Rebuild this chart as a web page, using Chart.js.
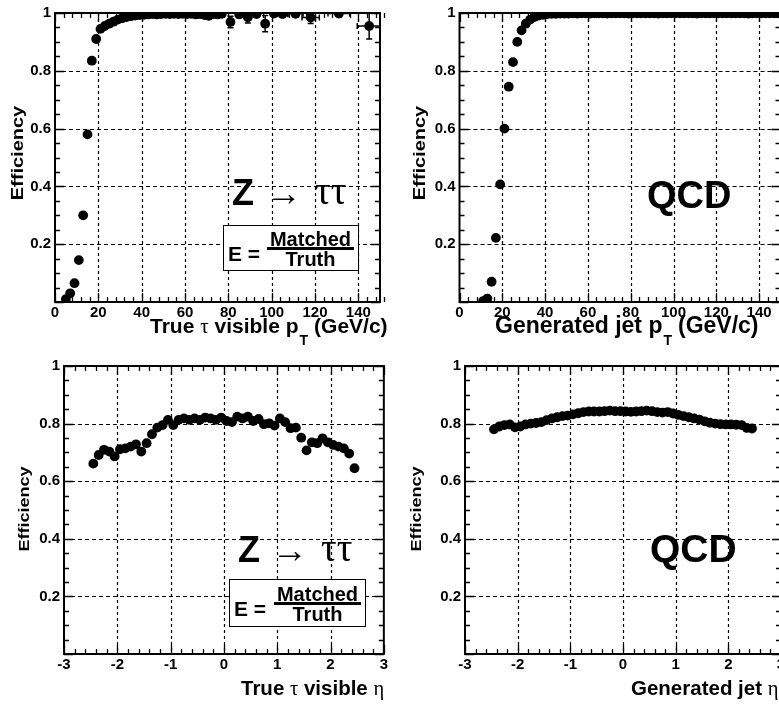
<!DOCTYPE html>
<html>
<head>
<meta charset="utf-8">
<title>Tau matching efficiency</title>
<script src="https://cdn.jsdelivr.net/npm/chart.js@4.4.1/dist/chart.umd.min.js"></script>
<style>
  html, body { margin: 0; padding: 0; background: #fff; }
  body { width: 779px; height: 706px; overflow: hidden; position: relative; font-family: 'Liberation Sans', Arial, sans-serif; }
  canvas { position: absolute; }
  .txt { position: absolute; white-space: nowrap; line-height: 1; font-weight: bold; color: #000; }
  .gk { font-family: 'Liberation Serif', 'DejaVu Serif', serif; font-weight: normal; }
  .sb { font-size: 14px; position: relative; top: 12px; margin-left: 1px; margin-right: 6px; }
  .ytitle { position: absolute; white-space: nowrap; line-height: 1; font-weight: bold; transform: translate(-50%, -50%) rotate(-90deg) scaleY(0.82); }
  .box { position: absolute; border: 1.5px solid #000; background: #fff; }
  .box div { position: absolute; white-space: nowrap; line-height: 1; font-weight: bold; }
  .bar { background: #000; height: 2.5px; }
</style>
</head>
<body>
<canvas id="ptZ" width="390" height="340" style="left:0;top:0"></canvas>
<canvas id="ptQcd" width="400" height="340" style="left:390px;top:0"></canvas>
<canvas id="etaZ" width="390" height="366" style="left:0;top:340px"></canvas>
<canvas id="etaQcd" width="400" height="366" style="left:390px;top:340px"></canvas>

<!-- axis titles -->
<div class="ytitle" style="left:17px;top:153px;font-size:20px">Efficiency</div>
<div class="ytitle" style="left:419px;top:153px;font-size:20px">Efficiency</div>
<div class="ytitle" style="left:24px;top:509px;font-size:18px">Efficiency</div>
<div class="ytitle" style="left:416px;top:509px;font-size:18px">Efficiency</div>

<div class="txt" style="left:150px;top:315px;font-size:21px">True <span class="gk">τ</span> visible p<span class="sb">T</span>(GeV/c)</div>
<div class="txt" style="left:495px;top:314px;font-size:23px">Generated jet p<span class="sb">T</span>(GeV/c)</div>
<div class="txt" style="left:241px;top:678px;font-size:20.5px">True <span class="gk">τ</span> visible <span class="gk">η</span></div>
<div class="txt" style="left:631px;top:678px;font-size:20.5px">Generated jet <span class="gk">η</span></div>

<!-- Z -> tau tau labels -->
<div class="txt" style="left:232px;top:175px;font-size:36px">Z</div>
<div class="txt gk" style="left:266px;top:175px;font-size:36px">→</div>
<div class="txt gk" style="left:315px;top:171px;font-size:39px">ττ</div>
<div class="box" style="left:223px;top:225px;width:134px;height:44px">
  <div style="left:4px;top:17px;font-size:21px">E =</div>
  <div style="left:43px;top:3px;width:87px;text-align:center;font-size:20px">Matched</div>
  <div class="bar" style="left:43px;top:21px;width:87px"></div>
  <div style="left:43px;top:23px;width:87px;text-align:center;font-size:20px">Truth</div>
</div>

<div class="txt" style="left:238px;top:532px;font-size:36px">Z</div>
<div class="txt gk" style="left:272px;top:532px;font-size:36px">→</div>
<div class="txt gk" style="left:321px;top:528px;font-size:39px">ττ</div>
<div class="box" style="left:229px;top:579px;width:135px;height:46px">
  <div style="left:4px;top:18px;font-size:21px">E =</div>
  <div style="left:44px;top:4px;width:87px;text-align:center;font-size:20px">Matched</div>
  <div class="bar" style="left:44px;top:22px;width:87px"></div>
  <div style="left:44px;top:24px;width:87px;text-align:center;font-size:20px">Truth</div>
</div>

<!-- QCD labels -->
<div class="txt" style="left:647px;top:176px;font-size:38px">QCD</div>
<div class="txt" style="left:650px;top:529px;font-size:39px">QCD</div>

<script>
// Z -> tau tau: efficiency vs true visible tau pT (GeV/c)
const zPtX = [5, 7, 9, 11, 13, 15, 17, 19, 21, 23, 25, 27, 29, 31, 33, 35, 37, 39, 41, 43,
  45, 47, 49, 51, 53, 55, 57, 59, 61, 63, 65, 67, 69, 71, 73, 75, 77,
  81, 85, 89, 93, 97, 101, 105, 111, 118, 131, 145];
const zPtY = [0.010, 0.030, 0.065, 0.145, 0.300, 0.580, 0.835, 0.910, 0.945, 0.955,
  0.963, 0.970, 0.977, 0.982, 0.986, 0.989, 0.991, 0.993, 0.994, 0.995,
  0.996, 0.995, 0.996, 0.997, 0.996, 0.997, 0.996, 0.997, 0.996, 0.997,
  0.995, 0.996, 0.993, 0.990, 0.996, 0.995, 0.997,
  0.969, 0.995, 0.985, 0.996, 0.963, 0.998, 0.996, 0.997, 0.984, 0.998, 0.955];
const zPtXErr = [1, 1, 1, 1, 1, 1, 1, 1, 1, 1, 1, 1, 1, 1, 1, 1, 1, 1, 1, 1,
  1, 1, 1, 1, 1, 1, 1, 1, 1, 1, 1, 1, 1, 1, 1, 1, 1,
  2, 2, 2, 2, 2, 2, 2.5, 3.5, 4, 5, 5.5];
const zPtYErr = [0.002, 0.004, 0.005, 0.007, 0.008, 0.009, 0.007, 0.005, 0.004, 0.004,
  0.003, 0.003, 0.003, 0.003, 0.003, 0.003, 0.003, 0.003, 0.003, 0.003,
  0.003, 0.003, 0.003, 0.003, 0.003, 0.003, 0.004, 0.004, 0.004, 0.004,
  0.005, 0.005, 0.006, 0.007, 0.006, 0.007, 0.007,
  0.020, 0.008, 0.020, 0.008, 0.028, 0.005, 0.007, 0.008, 0.020, 0.005, 0.045];

// QCD: efficiency vs generated jet pT (GeV/c)
const qcdPtX = [11, 13, 15, 17, 19, 21, 23, 25, 27, 29, 31, 33, 35, 37, 39, 41, 43,
  45, 47, 49, 51, 53, 55, 57, 59, 61, 63, 65, 67, 69, 71, 73, 75, 77, 79, 81, 83,
  85, 87, 89, 91, 93, 95, 97, 99, 101, 103, 105, 107, 109, 111, 113, 115, 117, 119,
  121, 123, 125, 127, 129, 131, 133, 135, 137, 139, 141, 143, 145, 147, 149];
const qcdPtY = [0.003, 0.012, 0.070, 0.222, 0.407, 0.600, 0.745, 0.830, 0.900, 0.940,
  0.963, 0.977, 0.986, 0.991, 0.994, 0.996, 0.997,
  0.997, 0.998, 0.998, 0.998, 0.999, 0.998, 0.999, 0.999, 0.998, 0.999,
  0.999, 0.999, 0.998, 0.999, 0.999, 0.999, 0.999, 0.998, 0.999, 0.999,
  0.999, 0.999, 0.999, 0.999, 0.998, 0.999, 0.999, 0.999, 0.999, 0.999,
  0.999, 0.999, 0.999, 0.998, 0.999, 0.999, 0.999, 0.999, 0.999, 0.999,
  0.999, 0.999, 0.999, 0.999, 0.999, 0.998, 0.999, 0.999, 0.999, 0.999,
  0.999, 0.999, 0.999];

// efficiency vs eta (both samples use the same bins)
const etaX = [-2.45, -2.35, -2.25, -2.15, -2.05, -1.95, -1.85, -1.75, -1.65, -1.55,
  -1.45, -1.35, -1.25, -1.15, -1.05, -0.95, -0.85, -0.75, -0.65, -0.55,
  -0.45, -0.35, -0.25, -0.15, -0.05, 0.05, 0.15, 0.25, 0.35, 0.45,
  0.55, 0.65, 0.75, 0.85, 0.95, 1.05, 1.15, 1.25, 1.35, 1.45,
  1.55, 1.65, 1.75, 1.85, 1.95, 2.05, 2.15, 2.25, 2.35, 2.45];
const zEtaY = [0.661, 0.691, 0.709, 0.703, 0.686, 0.711, 0.714, 0.720, 0.728, 0.703,
  0.732, 0.763, 0.786, 0.795, 0.813, 0.795, 0.813, 0.818, 0.813, 0.818,
  0.813, 0.821, 0.818, 0.813, 0.821, 0.809, 0.805, 0.824, 0.818, 0.824,
  0.809, 0.816, 0.798, 0.801, 0.793, 0.818, 0.805, 0.784, 0.786, 0.751,
  0.707, 0.735, 0.732, 0.749, 0.735, 0.726, 0.720, 0.714, 0.696, 0.645];
const qcdEtaY = [0.780, 0.790, 0.795, 0.797, 0.787, 0.790, 0.797, 0.800, 0.802, 0.805,
  0.812, 0.818, 0.822, 0.826, 0.828, 0.832, 0.836, 0.840, 0.842, 0.842,
  0.842, 0.843, 0.845, 0.843, 0.843, 0.842, 0.841, 0.842, 0.843, 0.845,
  0.843, 0.840, 0.838, 0.840, 0.835, 0.830, 0.826, 0.822, 0.818, 0.814,
  0.808, 0.803, 0.800, 0.798, 0.797, 0.797, 0.796, 0.795, 0.785, 0.783];

// tick labels
const ptTicks = [0, 20, 40, 60, 80, 100, 120, 140];
const etaTicks = [-3, -2, -1, 0, 1, 2, 3];
const effTicks = [0.2, 0.4, 0.6, 0.8, 1];

const tickFont = { family: "'Liberation Sans', Arial, sans-serif", size: 15, weight: 'bold' };

// dotted grid, frame and inward ROOT-style ticks on all four sides
const rootFrame = {
  id: 'rootFrame',
  beforeDatasetsDraw(chart, args, opts) {
    const { ctx, chartArea: a, scales: { x, y } } = chart;
    ctx.save();
    ctx.strokeStyle = '#000';
    ctx.lineWidth = 1.2;
    ctx.setLineDash([3, 3]);
    ctx.beginPath();
    x.ticks.forEach(t => {
      const px = Math.round(x.getPixelForValue(t.value)) + 0.5;
      if (px <= a.left + 2 || px >= a.right - 2) return;
      ctx.moveTo(px, a.top);
      ctx.lineTo(px, a.bottom);
    });
    ctx.stroke();
    ctx.setLineDash([4, 3]);
    ctx.beginPath();
    y.ticks.forEach(t => {
      const py = Math.round(y.getPixelForValue(t.value)) + 0.5;
      if (py <= a.top + 2 || py >= a.bottom - 2) return;
      ctx.moveTo(a.left, py);
      ctx.lineTo(a.right, py);
    });
    ctx.stroke();
    ctx.restore();
  },
  afterDatasetsDraw(chart, args, opts) {
    const { ctx, chartArea: a, scales: { x, y } } = chart;
    ctx.save();
    ctx.strokeStyle = '#000';
    ctx.lineWidth = 1.3;
    ctx.beginPath();
    const nx = Math.round((x.max - x.min) / opts.xMinor);
    for (let i = 0; i <= nx; i++) {
      const v = x.min + i * opts.xMinor;
      const major = Math.abs(v / opts.xMajor - Math.round(v / opts.xMajor)) < 1e-6;
      const len = major ? 9 : 5;
      const px = Math.round(x.getPixelForValue(v)) + 0.5;
      ctx.moveTo(px, a.bottom); ctx.lineTo(px, a.bottom - len);
      ctx.moveTo(px, a.top); ctx.lineTo(px, a.top + len);
    }
    const ny = Math.round((y.max - y.min) / opts.yMinor);
    for (let i = 0; i <= ny; i++) {
      const v = y.min + i * opts.yMinor;
      const major = Math.abs(v / opts.yMajor - Math.round(v / opts.yMajor)) < 1e-6;
      const len = major ? 9 : 5;
      const py = Math.round(y.getPixelForValue(v)) + 0.5;
      ctx.moveTo(a.left, py); ctx.lineTo(a.left + len, py);
      ctx.moveTo(a.right, py); ctx.lineTo(a.right - len, py);
    }
    ctx.stroke();
    ctx.lineWidth = 2;
    ctx.strokeRect(a.left, a.top, a.right - a.left, a.bottom - a.top);
    ctx.restore();
  }
};

// x/y error bars with small end caps, read from dataset.xErr / dataset.yErr
const errorBars = {
  id: 'errorBars',
  afterDatasetsDraw(chart) {
    const { ctx, chartArea: a, scales: { x, y } } = chart;
    ctx.save();
    ctx.beginPath();
    ctx.rect(a.left, a.top, a.right - a.left, a.bottom - a.top);
    ctx.clip();
    ctx.strokeStyle = '#000';
    ctx.lineWidth = 1.5;
    chart.data.datasets.forEach(ds => {
      if (!ds.yErr) return;
      ds.data.forEach((p, i) => {
        const cx = x.getPixelForValue(p.x);
        const cy = y.getPixelForValue(p.y);
        const y1 = y.getPixelForValue(p.y - ds.yErr[i]);
        const y2 = y.getPixelForValue(p.y + ds.yErr[i]);
        const x1 = x.getPixelForValue(p.x - ds.xErr[i]);
        const x2 = x.getPixelForValue(p.x + ds.xErr[i]);
        ctx.beginPath();
        ctx.moveTo(cx, y1); ctx.lineTo(cx, y2);
        ctx.moveTo(x1, cy); ctx.lineTo(x2, cy);
        if (y1 - y2 > 9) {
          ctx.moveTo(cx - 3, y1); ctx.lineTo(cx + 3, y1);
          ctx.moveTo(cx - 3, y2); ctx.lineTo(cx + 3, y2);
        }
        if (x2 - x1 > 9) {
          ctx.moveTo(x1, cy - 3); ctx.lineTo(x1, cy + 3);
          ctx.moveTo(x2, cy - 3); ctx.lineTo(x2, cy + 3);
        }
        ctx.stroke();
      });
    });
    ctx.restore();
  }
};

function makePanel(id, xs, ys, opt) {
  const ds = {
    data: xs.map((v, i) => ({ x: v, y: ys[i] })),
    pointRadius: 4.9,
    pointBackgroundColor: '#000',
    pointBorderColor: '#000',
    pointBorderWidth: 0,
    showLine: false
  };
  if (opt.yErr) {
    ds.yErr = opt.yErr;
    ds.xErr = opt.xErr;
  }
  return new Chart(document.getElementById(id), {
    type: 'scatter',
    data: { datasets: [ds] },
    options: {
      responsive: false,
      animation: false,
      events: [],
      layout: { padding: opt.padding },
      plugins: {
        legend: { display: false },
        tooltip: { enabled: false },
        rootFrame: { xMinor: opt.xMinor, xMajor: opt.xMajor, yMinor: 0.05, yMajor: 0.2 }
      },
      scales: {
        x: {
          type: 'linear',
          min: opt.xMin,
          max: opt.xMax,
          afterBuildTicks: s => { s.ticks = opt.xTicks.map(v => ({ value: v })); },
          afterFit: s => { s.height = 30; },
          grid: { display: false, drawTicks: false },
          border: { display: false },
          ticks: {
            autoSkip: false, maxRotation: 0, padding: 2, color: '#000', font: tickFont,
            callback: v => String(v)
          }
        },
        y: {
          type: 'linear',
          min: 0,
          max: 1,
          afterBuildTicks: s => { s.ticks = effTicks.map(v => ({ value: v })); },
          afterFit: s => { s.width = opt.yWidth; },
          grid: { display: false, drawTicks: false },
          border: { display: false },
          ticks: {
            autoSkip: false, padding: 4, color: '#000', font: tickFont,
            callback: v => String(+v.toFixed(1))
          }
        }
      }
    },
    plugins: [rootFrame, errorBars]
  });
}

makePanel('ptZ', zPtX, zPtY, {
  xMin: 0, xMax: 150, xTicks: ptTicks, xMinor: 4, xMajor: 20, yWidth: 55,
  padding: { left: 0, right: 10, top: 11, bottom: 8 },
  xErr: zPtXErr, yErr: zPtYErr
});
makePanel('ptQcd', qcdPtX, qcdPtY, {
  xMin: 0, xMax: 150, xTicks: ptTicks, xMinor: 4, xMajor: 20, yWidth: 69.5,
  padding: { left: 0, right: 9.5, top: 11, bottom: 8 }
});
makePanel('etaZ', etaX, zEtaY, {
  xMin: -3, xMax: 3, xTicks: etaTicks, xMinor: 0.2, xMajor: 1, yWidth: 64,
  padding: { left: 0, right: 4, top: 26, bottom: 22 }
});
makePanel('etaQcd', etaX, qcdEtaY, {
  xMin: -3, xMax: 3, xTicks: etaTicks, xMinor: 0.2, xMajor: 1, yWidth: 75,
  padding: { left: 0, right: 9, top: 26, bottom: 22 }
});
</script>
</body>
</html>
